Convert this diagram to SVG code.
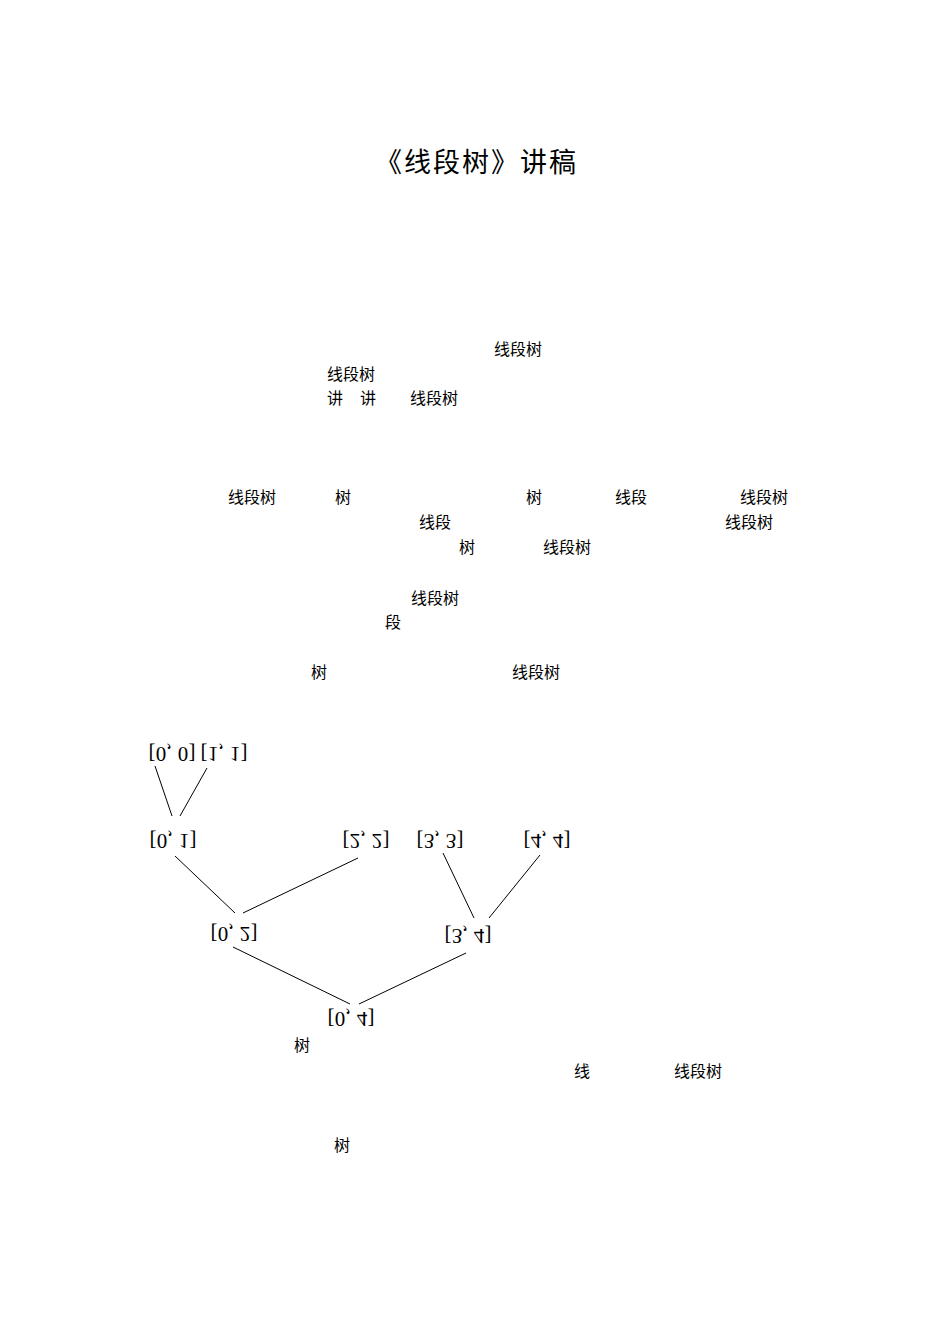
<svg xmlns="http://www.w3.org/2000/svg" width="950" height="1344" viewBox="0 0 950 1344">
<style>
.t{font-family:"Noto Sans CJK SC","Noto Sans",sans-serif;font-size:16px;fill:#000}
.title{font-family:"Noto Sans CJK SC","Noto Sans",sans-serif;font-size:27px;fill:#000}
.lbl{font-family:"Liberation Serif","Noto Sans CJK SC",serif;font-size:21px;fill:#000}
.ln{stroke:#000;stroke-width:1;fill:none}
</style>
<rect width="950" height="1344" fill="#fff"/>
<g id="title"><text class="title" x="375" y="172" textLength="201">《线段树》讲稿</text></g>
<g id="body">
<text class="t" x="494" y="355">线段树</text>
<text class="t" x="327" y="380">线段树</text>
<text class="t" x="327" y="404">讲</text>
<text class="t" x="360" y="404">讲</text>
<text class="t" x="410" y="404">线段树</text>
<text class="t" x="228" y="503">线段树</text>
<text class="t" x="335" y="503">树</text>
<text class="t" x="526" y="503">树</text>
<text class="t" x="615" y="503">线段</text>
<text class="t" x="740" y="503">线段树</text>
<text class="t" x="419" y="528">线段</text>
<text class="t" x="725" y="528">线段树</text>
<text class="t" x="459" y="553">树</text>
<text class="t" x="543" y="553">线段树</text>
<text class="t" x="411" y="604">线段树</text>
<text class="t" x="385" y="628">段</text>
<text class="t" x="311" y="678">树</text>
<text class="t" x="512" y="678">线段树</text>
<text class="t" x="294" y="1051">树</text>
<text class="t" x="574" y="1077">线</text>
<text class="t" x="674" y="1077">线段树</text>
<text class="t" x="334" y="1151">树</text>
</g>
<g id="connectors">
<line class="ln" x1="155" y1="766" x2="172" y2="816"/>
<line class="ln" x1="207" y1="768" x2="180" y2="816"/>
<line class="ln" x1="175" y1="856" x2="235" y2="913"/>
<line class="ln" x1="358" y1="858" x2="243" y2="913"/>
<line class="ln" x1="443" y1="853" x2="474" y2="918"/>
<line class="ln" x1="540" y1="855" x2="489" y2="918"/>
<line class="ln" x1="233" y1="947" x2="350" y2="1004"/>
<line class="ln" x1="466" y1="953" x2="359" y2="1004"/>
</g>
<g id="n00" transform="translate(172,754) scale(1,-1)"><text class="lbl" x="0" y="0" text-anchor="middle" dominant-baseline="central" textLength="47">[0, 0]</text></g>
<g id="n11" transform="translate(224,754) scale(1,-1)"><text class="lbl" x="0" y="0" text-anchor="middle" dominant-baseline="central" textLength="47">[1, 1]</text></g>
<g id="n01" transform="translate(173,841) scale(1,-1)"><text class="lbl" x="0" y="0" text-anchor="middle" dominant-baseline="central" textLength="47">[0, 1]</text></g>
<g id="n22" transform="translate(366,841) scale(1,-1)"><text class="lbl" x="0" y="0" text-anchor="middle" dominant-baseline="central" textLength="47">[2, 2]</text></g>
<g id="n33" transform="translate(440,841) scale(1,-1)"><text class="lbl" x="0" y="0" text-anchor="middle" dominant-baseline="central" textLength="47">[3, 3]</text></g>
<g id="n44" transform="translate(547,841) scale(1,-1)"><text class="lbl" x="0" y="0" text-anchor="middle" dominant-baseline="central" textLength="47">[4, 4]</text></g>
<g id="n02" transform="translate(234,934) scale(1,-1)"><text class="lbl" x="0" y="0" text-anchor="middle" dominant-baseline="central" textLength="47">[0, 2]</text></g>
<g id="n34" transform="translate(468,936) scale(1,-1)"><text class="lbl" x="0" y="0" text-anchor="middle" dominant-baseline="central" textLength="47">[3, 4]</text></g>
<g id="n04" transform="translate(351,1019) scale(1,-1)"><text class="lbl" x="0" y="0" text-anchor="middle" dominant-baseline="central" textLength="47">[0, 4]</text></g>
</svg>
